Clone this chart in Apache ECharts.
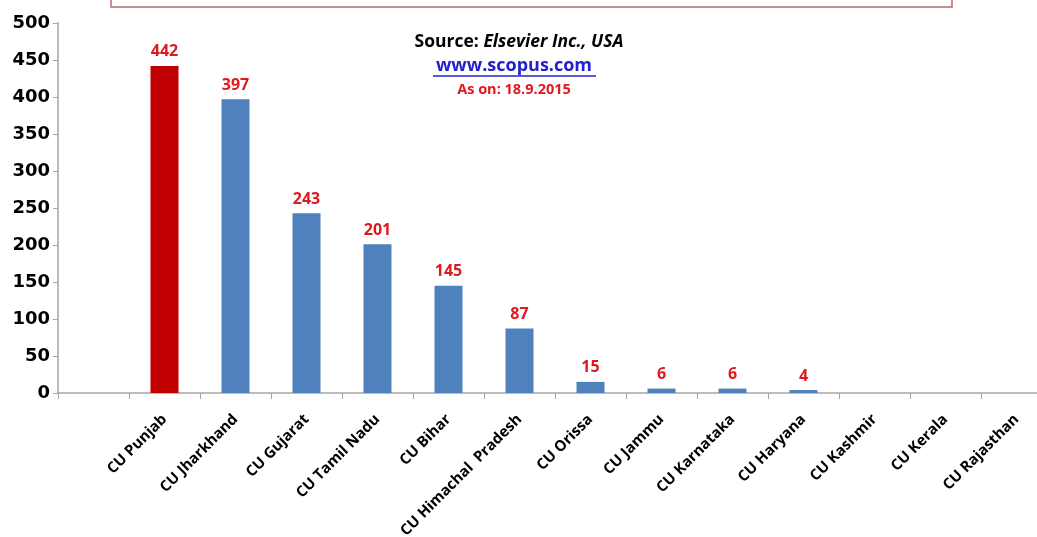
<!DOCTYPE html>
<html><head><meta charset="utf-8">
<script src="https://cdn.jsdelivr.net/npm/echarts@6/dist/echarts.min.js"></script>
<style>html,body{margin:0;padding:0;background:#fff}#c{width:1037px;height:537px}</style>
</head><body><div id="c"></div>
<script>
const categories = ['', 'CU Punjab', 'CU Jharkhand', 'CU Gujarat', 'CU Tamil Nadu', 'CU Bihar', 'CU Himachal  Pradesh', 'CU Orissa', 'CU Jammu', 'CU Karnataka', 'CU Haryana', 'CU Kashmir', 'CU Kerala', 'CU Rajasthan'];
const publications = [null, 442, 397, 243, 201, 145, 87, 15, 6, 6, 4, 0, 0, 0];
const highlightIndex = 1;
const yTicks = [0, 50, 100, 150, 200, 250, 300, 350, 400, 450, 500];

const FONT = '"Open Sans", Lato, sans-serif';
const chart = echarts.init(document.getElementById('c'));
chart.setOption({
  animation: false,
  backgroundColor: '#ffffff',
  grid: { left: 58, top: 23, bottom: 144, width: 994, containLabel: false, outerBoundsMode: 'none' },
  xAxis: {
    type: 'category',
    data: categories,
    boundaryGap: true,
    axisLine: { lineStyle: { color: '#a6a6a6', width: 1.5 } },
    axisTick: { show: true, alignWithLabel: false, length: 6, lineStyle: { color: '#a6a6a6' } },
    axisLabel: { interval: 0, rotate: 45, color: '#000', fontFamily: FONT, fontWeight: 'bold', fontSize: 15, margin: 24 }
  },
  yAxis: {
    type: 'value',
    min: yTicks[0], max: yTicks[yTicks.length - 1], interval: 50,
    splitLine: { show: false },
    axisLine: { show: true, lineStyle: { color: '#a6a6a6', width: 1.5 } },
    axisTick: { show: true, length: 5, lineStyle: { color: '#a6a6a6' } },
    axisLabel: { color: '#000', fontFamily: '"DejaVu Sans", sans-serif', fontWeight: 'bold', fontSize: 18, margin: 8 }
  },
  series: [{
    type: 'bar',
    barWidth: 28,
    data: publications.map((v, i) => ({
      value: v,
      itemStyle: { color: i === highlightIndex ? '#c00000' : '#4f81bd' }
    })),
    label: {
      show: true, position: 'top', distance: 6,
      color: '#e0191f', fontFamily: FONT, fontWeight: 'bold', fontSize: 16,
      formatter: p => (p.value ? String(p.value) : '')
    }
  }],
  graphic: [
    { type: 'rect', shape: { x: 111, y: -20, width: 841, height: 27 },
      style: { fill: '#fff', stroke: '#b56b6b', lineWidth: 1.5 }, z: 10 },
    { type: 'text', x: 512, y: 1, z: 11,
      style: { text: 'Scopus', fill: '#1f3864', font: 'bold 28px "DejaVu Serif", serif', textAlign: 'center', textVerticalAlign: 'bottom' } },
    { type: 'text', x: 519, y: 42, z: 11,
      style: { rich: { a: { fill: '#000', font: 'bold 17.5px ' + FONT }, b: { fill: '#000', font: 'italic bold 17.5px ' + FONT } },
        text: '{a|Source: }{b|Elsevier Inc., USA}', textAlign: 'center', textVerticalAlign: 'middle' } },
    { type: 'text', x: 514, y: 66, z: 11,
      style: { text: 'www.scopus.com', fill: '#2222c8', font: 'bold 18px ' + FONT, textAlign: 'center', textVerticalAlign: 'middle' } },
    { type: 'line', shape: { x1: 433, y1: 76, x2: 596, y2: 76 }, style: { stroke: '#2222c8', lineWidth: 1.5 }, z: 11 },
    { type: 'text', x: 514, y: 90, z: 11,
      style: { text: 'As on: 18.9.2015', fill: '#e0191f', font: 'bold 14.5px ' + FONT, textAlign: 'center', textVerticalAlign: 'middle' } }
  ]
});
</script></body></html>
